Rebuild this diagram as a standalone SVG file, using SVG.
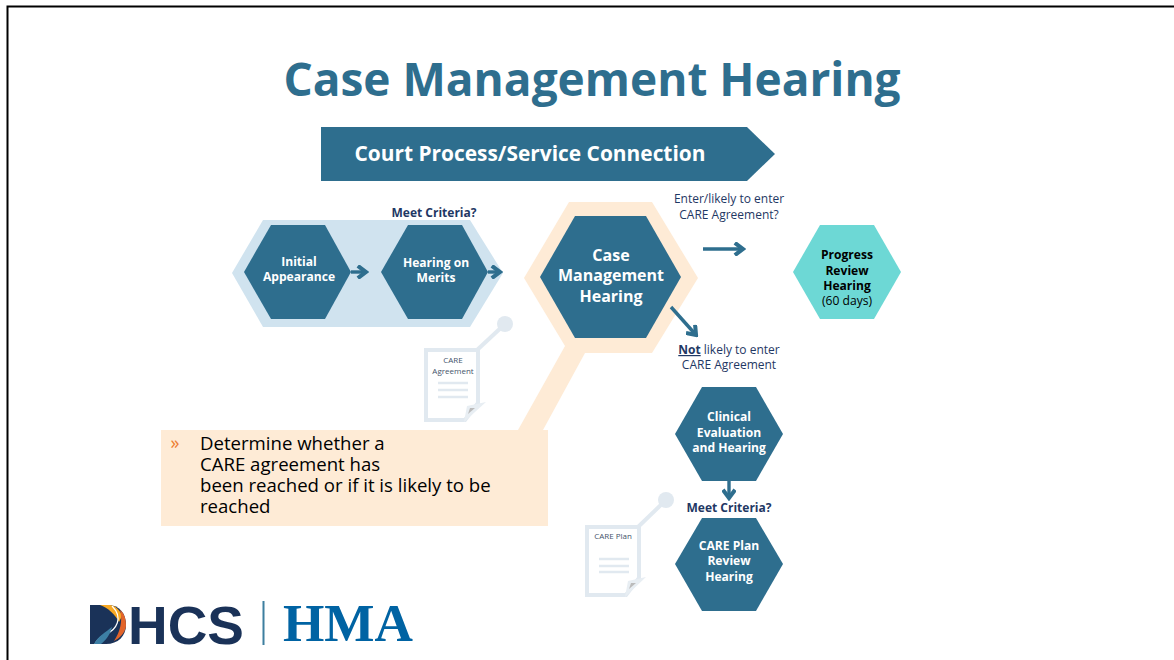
<svg xmlns="http://www.w3.org/2000/svg" width="1174" height="660" viewBox="0 0 1174 660">
<style>
text{font-family:"Open Sans","Noto Sans","Liberation Sans",sans-serif;text-anchor:middle}
.n{fill:#2e6e8e}
.w{fill:#fff;font-weight:700;font-size:12.1px}
.w2{fill:#fff;font-weight:700;font-size:16px}
.d{fill:#1f3864;font-size:12px}
.b{fill:#1f3864;font-weight:700;font-size:12px}
.s{fill:none;stroke:#2e6e8e;stroke-width:3.4}
.doc{fill:none;stroke:#e1e9f0;stroke-width:4}
.l{stroke:#e1e9f0;stroke-width:2.4}
.t{fill:#44546a;font-size:8px}
.c{font-size:18.6px;fill:#000;text-anchor:start}
</style>
<defs>
<marker id="a" viewBox="0 0 10 10" refX="8" refY="5" markerWidth="4" markerHeight="4" orient="auto"><path d="M2 0.500L8 5L2 9.500" fill="none" stroke="#2e6e8e" stroke-width="3"/></marker>
</defs>
<rect width="1174" height="660" fill="#fff"/>
<path d="M7.500 660V6.500H1174" fill="none" stroke="#000" stroke-width="2"/>
<g id="title"><text x="592" y="96" font-size="46" font-weight="700" fill="#2e6e8e">Case Management Hearing</text></g>
<g id="banner"><path class="n" d="M321 127H747L775 154L747 181H321Z"/><text x="530" y="161" font-size="20.900" font-weight="700" fill="#fff">Court Process/Service Connection</text></g>

<g id="backgrounds">
<path fill="#d0e3ef" d="M232 273L263 220H470L503 273L470 327H263Z"/>
<path fill="#feebd6" d="M524 278L569 202H652L698 278L652 353H585L543 430H518L565 346Z"/>
</g>

<g id="care-agreement-doc">
<circle cx="505" cy="324" r="8" fill="#e1e9f0"/>
<path d="M505 324L476 351" stroke="#e1e9f0" stroke-width="4" fill="none"/>
<path class="doc" d="M426 350H478V403L465 420H426Z"/>
<path d="M464 422L467 406L486 402Z" fill="#e8eef3"/>
<path d="M468 414L470 408L475 408Z" fill="#bbb"/>
<path class="l" d="M438 383H468M438 390H468M438 397H468"/>
<text class="t" x="453" y="363">CARE</text><text class="t" x="453" y="374">Agreement</text>
</g>

<g id="care-plan-doc">
<circle cx="666" cy="500" r="8" fill="#e1e9f0"/>
<path d="M666 500L638 527" stroke="#e1e9f0" stroke-width="4" fill="none"/>
<path class="doc" d="M587 527H639V578L626 595H587Z"/>
<path d="M625 597L628 581L646 577Z" fill="#e8eef3"/>
<path d="M629 589L631 583L636 583Z" fill="#bbb"/>
<path class="l" d="M599 559H629M599 566H629M599 572H629"/>
<text class="t" x="613" y="539">CARE Plan</text>
</g>

<g id="initial-appearance"><path class="n" d="M244 272L271 225H325L351 272L325 319H271Z"/><text class="w" x="299" y="266">Initial</text><text class="w" x="299" y="281">Appearance</text></g>
<g id="hearing-on-merits"><path class="n" d="M381 272L408 225H462L488 272L462 319H408Z"/><text class="w" x="436" y="267">Hearing on</text><text class="w" x="436" y="282">Merits</text></g>
<g id="case-management-hearing"><path class="n" d="M540 277L575 216H646L681 277L646 338H575Z"/><text class="w2" x="611" y="261">Case</text><text class="w2" x="611" y="281">Management</text><text class="w2" x="611" y="302">Hearing</text></g>
<g id="progress-review-hearing"><path fill="#6dd8d5" d="M793 272L820 225H874L901 272L874 319H820Z"/><g font-size="12.100" fill="#000"><text x="847" y="259" font-weight="700">Progress</text><text x="847" y="275" font-weight="700">Review</text><text x="847" y="290" font-weight="700">Hearing</text><text x="847" y="305">(60 days)</text></g></g>
<g id="clinical-evaluation"><path class="n" d="M675 434L702 387H756L783 434L756 481H702Z"/><text class="w" x="729" y="421">Clinical</text><text class="w" x="729" y="437">Evaluation</text><text class="w" x="729" y="452">and Hearing</text></g>
<g id="care-plan-review"><path class="n" d="M675 564L702 518H756L783 564L756 611H702Z"/><text class="w" x="729" y="550">CARE Plan</text><text class="w" x="729" y="565">Review</text><text class="w" x="729" y="581">Hearing</text></g>

<g id="connectors">
<path class="s" marker-end="url(#a)" d="M351 272H366"/>
<path class="s" marker-end="url(#a)" d="M488 272H500"/>
<path class="s" marker-end="url(#a)" d="M703 249H743"/>
<path class="s" marker-end="url(#a)" d="M671 307L696 335"/>
<path class="s" marker-end="url(#a)" d="M729 481V498"/>
</g>

<g id="labels">
<text class="b" x="434" y="217">Meet Criteria?</text>
<text class="d" x="729" y="203">Enter/likely to enter</text>
<text class="d" x="729" y="219">CARE Agreement?</text>
<text class="d" x="729" y="354"><tspan font-weight="700" text-decoration="underline">Not</tspan> likely to enter</text>
<text class="d" x="729" y="369">CARE Agreement</text>
<text class="b" x="729" y="512">Meet Criteria?</text>
</g>

<g id="callout">
<rect x="161" y="430" width="387" height="96" fill="#feebd6"/>
<text x="175" y="449" font-size="18" fill="#ed7d31">»</text>
<text class="c" x="200" y="450">Determine whether a</text>
<text class="c" x="200" y="471">CARE agreement has</text>
<text class="c" x="200" y="492">been reached or if it is likely to be</text>
<text class="c" x="200" y="513">reached</text>
</g>

<g id="logos">
<path fill="#1a3258" d="M90 605H108C120 605 126 614 126 625C126 636 118 644 106 644H90Z"/>
<path fill="#f7a823" d="M100 605H110C116 606 120 610 122 616L119 622C115 614 108 608 100 605Z"/>
<path fill="#e2642a" d="M120 610C125 614 126 620 126 626C125 633 120 638 114 641C120 632 123 621 120 610Z"/>
<path fill="none" stroke="#fff" stroke-width="1.200" d="M112 606C124 618 116 630 106 634C100 637 97 640 95 644"/>
<path fill="#3d7fa5" d="M94 644C98 636 106 632 112 627C110 635 106 640 101 644Z"/>
<text x="186" y="644" font-size="53" font-weight="700" fill="#1a3258" style="font-family:'Liberation Sans',sans-serif" textLength="116" lengthAdjust="spacingAndGlyphs">HCS</text>
<rect x="262.500" y="601" width="2" height="44" fill="#3d7f9f"/>
<text x="348" y="640.500" font-size="53" font-weight="700" fill="#0063a3" style="font-family:'Liberation Serif',serif" textLength="130" lengthAdjust="spacingAndGlyphs">HMA</text>
</g>
</svg>
